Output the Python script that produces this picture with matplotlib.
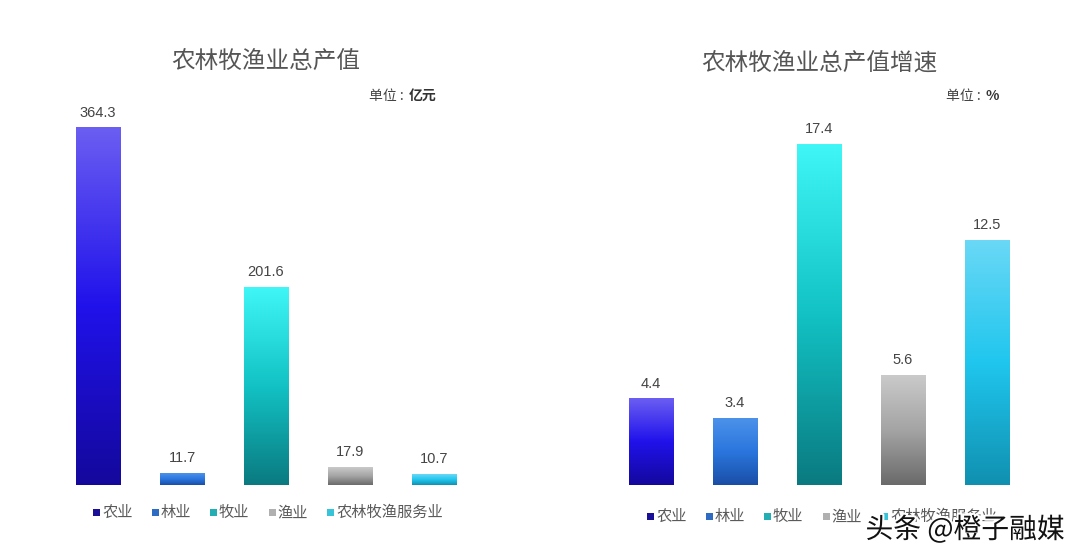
import numpy as np
import matplotlib as mpl
mpl.use('Agg')
import matplotlib.pyplot as plt
from matplotlib.colors import LinearSegmentedColormap
from matplotlib.patches import Rectangle
import matplotlib.patheffects as pe

plt.rcParams['font.family'] = ['Noto Sans CJK SC', 'DejaVu Sans']

categories = ["农业", "林业", "牧业", "渔业", "农林牧渔服务业"]
output_value = [364.3, 11.7, 201.6, 17.9, 10.7]    # 亿元
growth_rate = [4.4, 3.4, 17.4, 5.6, 12.5]          # %

titles = ["农林牧渔业总产值", "农林牧渔业总产值增速"]
unit_names = ["亿元", "%"]

# top -> middle -> bottom colour of each bar's gradient
gradients = [
    ["#6b5ef2", "#2012ea", "#14089c"],
    ["#4c92ea", "#2a76de", "#1a4ea6"],
    ["#40f6f6", "#12c2c4", "#0a7a80"],
    ["#cacaca", "#a4a4a4", "#6a6a6a"],
    ["#6ad8f6", "#20c6ee", "#1090b0"],
]
legend_colors = ["#1a1098", "#2e6cc4", "#22aeb2", "#b0b0b0", "#38c4d8"]

W, H = 1080, 558


def px_axes(fig, left, right, top, bottom):
    return fig.add_axes([left / W, 1 - bottom / H, (right - left) / W, (bottom - top) / H])


def gradient_bars(ax, values, ymax):
    x = np.arange(len(values))
    bars = ax.bar(x, values, width=0.53, color="none", edgecolor="none")
    grad = np.linspace(1, 0, 256).reshape(-1, 1)
    for b, cols in zip(bars, gradients):
        cmap = LinearSegmentedColormap.from_list("g", cols[::-1])
        ax.imshow(grad, cmap=cmap, aspect="auto", origin="upper",
                  extent=[b.get_x(), b.get_x() + b.get_width(), 0, b.get_height()],
                  zorder=2)
    ax.set_xlim(-0.5, len(values) - 0.5)
    ax.set_ylim(0, ymax)
    for b, v in zip(bars, values):
        ax.annotate("%.1f" % v, (b.get_x() + b.get_width() / 2, b.get_height()),
                    xytext=(0, 6), textcoords="offset points", ha="center", va="bottom",
                    fontsize=10.5, color="#444444", family=["Liberation Sans", "DejaVu Sans"])
    ax.axis("off")


def draw_legend(fig, renderer, x0, y0):
    # manual legend so that all labels share one baseline
    x = x0
    for name, col in zip(categories, legend_colors):
        fig.patches.append(Rectangle(((x) / W, 1 - (y0 + 3.5) / H), 7 / W, 7 / H,
                                     transform=fig.transFigure, facecolor=col,
                                     edgecolor="none"))
        t = fig.text((x + 9) / W, 1 - (y0 + 5) / H, name, ha="left", va="baseline",
                     fontsize=11, color="#5a5a5a")
        x = t.get_window_extent(renderer).x1 + 19


def draw_unit(fig, renderer, xr, y, unit):
    t = fig.text(xr / W, 1 - y / H, unit, ha="right", va="center", fontsize=10,
                 color="#333333", fontweight="bold")
    x1 = t.get_window_extent(renderer).x0 - 5
    fig.text(x1 / W, 1 - y / H, "单位 :", ha="right", va="center", fontsize=10,
             color="#444444")


fig = plt.figure(figsize=(W / 100, H / 100), dpi=100)
renderer = fig.canvas.get_renderer()

ax1 = px_axes(fig, 56, 476, 93, 485)
gradient_bars(ax1, output_value, 400)
ax2 = px_axes(fig, 609, 1029, 94, 485)
gradient_bars(ax2, growth_rate, 20)

for ax, title in zip([ax1, ax2], titles):
    ax.text(0.5, 1.0 + 0.08, title, transform=ax.transAxes, ha="center", va="center",
            fontsize=17, color="#555555")

draw_unit(fig, renderer, 436, 96, unit_names[0])
draw_unit(fig, renderer, 999, 96, unit_names[1])

draw_legend(fig, renderer, 93, 512)
draw_legend(fig, renderer, 647, 516)

fig.text(965 / W, 1 - 530 / H, "头条 @橙子融媒", ha="center", va="center", fontsize=20,
         color="#111111", path_effects=[pe.withStroke(linewidth=3, foreground="white")])

fig.savefig("out.png", dpi=100, facecolor="white")
